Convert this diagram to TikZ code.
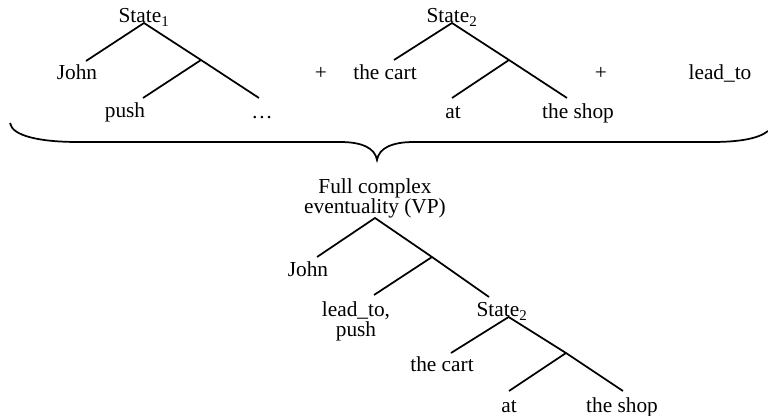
\documentclass[tikz,border=0pt]{standalone}
\usepackage{fontspec}
\setmainfont{Liberation Serif}

\begin{document}
\begin{tikzpicture}[x=0.75pt,y=-0.75pt,font=\fontsize{16}{15}\selectfont]

\tikzstyle{word}=[inner sep=0pt,anchor=base]
\tikzstyle{arm}=[line width=1.3pt]

\useasboundingbox (0,0) rectangle (768,416);

    % the three parts on top
    \node[word] (S1) at (144,23) {State\textsubscript{1}};
    \node[word] (John1) at (77,80) {John};
    \node[word] (push1) at (125,118) {push};
    \node[word] (dots1) at (262,119) {…};
    \node[word] (plus1) at (321,80) {+};
    \node[word] (S2) at (452,23) {State\textsubscript{2}};
    \node[word] (cart1) at (385,80) {the cart};
    \node[word] (at1) at (453,119) {at};
    \node[word] (shop1) at (578,119) {the shop};
    \node[word] (plus2) at (601,80) {+};
    \node[word] (lead1) at (720,80) {lead\_to};

    \coordinate (j1) at (86,61);
    \coordinate (b1) at (201,60);
    \coordinate (e1) at (259,98);
    \coordinate (p1) at (143,98);
    \coordinate (j2) at (394,60);
    \coordinate (b2) at (509,60);
    \coordinate (e2) at (567,98);
    \coordinate (p2) at (452,98);

    \draw[arm] (j1) -- (S1.base) -- (b1) -- (e1);
    \draw[arm] (b1) -- (p1);
    \draw[arm] (j2) -- (S2.base) -- (b2) -- (e2);
    \draw[arm] (b2) -- (p2);

    % brace
    \draw[arm] (10,123) .. controls (12,136) and (40,142) .. (78,142) -- (340,142)
        .. controls (362,142) and (375,148) .. (377,160)
        .. controls (379,148) and (392,142) .. (414,142) -- (712,142)
        .. controls (738,142) and (758,139) .. (768,131);

    % the whole
    \node[inner sep=0pt,anchor=south,align=center] (full) at (375,218) {Full complex\\eventuality (VP)};
    \node[word] (John2) at (308,277) {John};
    \node[inner sep=0pt,anchor=north,align=center] (lead2) at (356,301) {lead\_to,\\push};
    \node[word] (S3) at (502,317) {State\textsubscript{2}};
    \node[word] (cart2) at (442,372) {the cart};
    \node[word] (at2) at (509,413) {at};
    \node[word] (shop2) at (622,413) {the shop};

    \coordinate (j3) at (317,257);
    \coordinate (b3) at (432,257);
    \coordinate (e3) at (489,297);
    \coordinate (l3) at (374,295);
    \coordinate (c4) at (451,353);
    \coordinate (b4) at (566,353);
    \coordinate (e4) at (623,391);
    \coordinate (a4) at (509,391);

    \draw[arm] (j3) -- (full.south) -- (b3) -- (e3);
    \draw[arm] (b3) -- (l3);
    \draw[arm] (c4) -- ([xshift=5pt]S3.base) -- (b4) -- (e4);
    \draw[arm] (b4) -- (a4);
\end{tikzpicture}
\end{document}
